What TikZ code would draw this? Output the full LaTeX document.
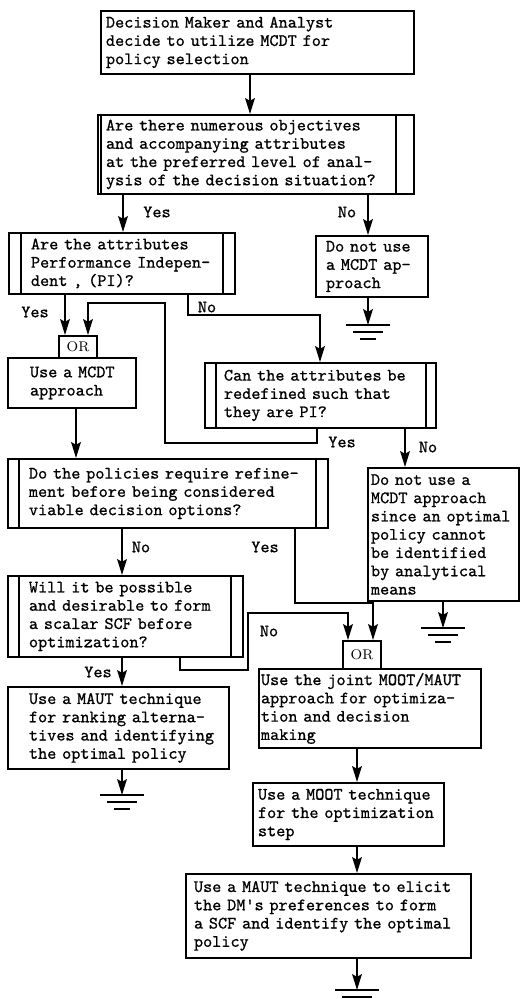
\documentclass[tikz,border=0pt]{standalone}
\usepackage{fontspec}
\usetikzlibrary{arrows.meta}

\newfontfamily\twfont{Latin Modern Mono}[FakeBold=0.8]
\newcommand{\boxfont}{\twfont\fontsize{9.9pt}{10.4pt}\selectfont}

\tikzset{
  box/.style 2 args={draw, line width=1.1pt, anchor=north west, inner sep=0pt,
    align=left, text width=#1, minimum height=#2, font=\boxfont},
  pad/.style={execute at begin node={\leftskip=#1\relax}},
  bars/.style 2 args={path picture={
      \draw[line width=0.8pt] ([xshift=#1]path picture bounding box.north west)
        -- ([xshift=#1]path picture bounding box.south west);
      \draw[line width=0.8pt] ([xshift=-#2]path picture bounding box.north east)
        -- ([xshift=-#2]path picture bounding box.south east);}},
  orbox/.style={draw, line width=1.1pt, anchor=north west, inner sep=0pt,
    minimum width=0.76cm, minimum height=#1, font=\fontsize{8pt}{9pt}\selectfont},
  lbl/.style={font=\boxfont, inner sep=0pt},
  flow/.style={line width=1.1pt, -{Stealth[length=9pt, width=5.5pt, inset=1.5pt]}},
  ground/.pic={
    \draw[line width=1.6pt] (-22,0) -- (22,0);
    \draw[line width=1.6pt] (-15,7) -- (15,7);
    \draw[line width=1.6pt] (-8,14) -- (8,14);
  },
}

\begin{document}
\begin{tikzpicture}[x=0.02cm, y=-0.02cm]
    \useasboundingbox (0,0) rectangle (520,999);

    % boxes
    \node[box={6.26cm}{1.26cm}, pad=0.1cm] (start) at (100,10)
        {Decision Maker and Analyst\\decide to utilize MCDT for\\policy selection};
    \node[box={6.32cm}{1.58cm}, pad=0.16cm, bars={0.06cm}{0.36cm}] (qObj) at (97,114)
        {Are there numerous objectives\\and accompanying attributes\\at the preferred level of anal-\\ysis of the decision situation?};
    \node[box={4.52cm}{1.22cm}, pad=0.44cm, bars={0.24cm}{0.24cm}] (qPI) at (8,232)
        {Are the attributes\\Performance Indepen-\\dent , (PI)?};
    \node[box={2.24cm}{1.22cm}, pad=0.2cm] (noMcdtA) at (315,235)
        {Do not use\\a MCDT ap-\\proach};
    \node[box={2.56cm}{1.0cm}, pad=0.44cm] (useMcdt) at (7,357)
        {Use a MCDT\\approach};
    \node[orbox=0.44cm] (orA) at (58,335) {OR};
    \node[box={4.62cm}{1.3cm}, pad=0.38cm, bars={0.22cm}{0.2cm}] (qRedef) at (204,362)
        {Can the attributes be\\redefined such that\\they are PI?};
    \node[box={6.4cm}{1.38cm}, pad=0.42cm, bars={0.22cm}{0.24cm}] (qRefine) at (7,458)
        {Do the policies require refine-\\ment before being considered\\viable decision options?};
    \node[box={3.02cm}{2.66cm}, pad=0.06cm] (noMcdtB) at (367,467)
        {Do not use a\\MCDT approach\\since an optimal\\policy cannot\\be identified\\by analytical\\means};
    \node[box={4.7cm}{1.62cm}, pad=0.42cm, bars={0.22cm}{0.24cm}] (qScf) at (7,575)
        {Will it be possible\\and desirable to form\\a scalar SCF before\\optimization?};
    \node[orbox=0.56cm] (orB) at (342,640) {OR};
    \node[box={4.42cm}{1.64cm}, pad=0.42cm] (useMaut) at (7,686)
        {Use a MAUT technique\\for ranking alterna-\\tives and identifying\\the optimal policy};
    \node[box={4.44cm}{1.58cm}, pad=0.04cm] (useJoint) at (258,668)
        {Use the joint MOOT/MAUT\\approach for optimiza-\\tion and decision\\making};
    \node[box={3.82cm}{1.26cm}, pad=0.1cm] (useMoot) at (252,782)
        {Use a MOOT technique\\for the optimization\\step};
    \node[box={5.7cm}{1.68cm}, pad=0.16cm] (useElicit) at (185,873)
        {Use a MAUT technique to elicit\\the DM's preferences to form\\a SCF and identify the optimal\\policy};

    % grounds
    \coordinate (gndA) at (368,325);
    \coordinate (gndB) at (443,628);
    \coordinate (gndC) at (122,795);
    \coordinate (gndD) at (357,990);
    \pic at (gndA) {ground};
    \pic at (gndB) {ground};
    \pic at (gndC) {ground};
    \pic at (gndD) {ground};

    % connectors
    \draw[flow] (start.south -| 250,0) -- (qObj.north -| 250,0);
    \draw[flow] (qObj.south -| 123,0) -- (qPI.north -| 123,0);
    \draw[flow] (qObj.south -| 368,0) -- (noMcdtA.north -| 368,0);
    \draw[flow] (noMcdtA.south -| gndA) -- (gndA);
    \draw[flow] (qPI.south -| 65,0) -- (orA.north -| 65,0);
    \draw[flow] (qPI.south -| 188,0) |- (320,315) -- (qRedef.north -| 320,0);
    \draw[flow] (qRedef.south -| 317,0) |- (165,443) |- (88,303) -- (orA.north -| 88,0);
    \draw[flow] (useMcdt.south -| 76,0) -- (qRefine.north -| 76,0);
    \draw[flow] (qRedef.south -| 405,0) -- (noMcdtB.north -| 405,0);
    \draw[flow] (noMcdtB.south -| gndB) -- (gndB);
    \draw[flow] (qRefine.south -| 122,0) -- (qScf.north -| 122,0);
    \draw[flow] (qRefine.south -| 295,0) |- (373,603) -- (orB.north -| 373,0);
    \draw[flow] (qScf.south -| 180,0) |- (248,670) |- (348,613) -- (orB.north -| 348,0);
    \draw[flow] (qScf.south -| 122,0) -- (useMaut.north -| 122,0);
    \draw[flow] (useMaut.south -| gndC) -- (gndC);
    \draw[flow] (useJoint.south -| 357,0) -- (useMoot.north -| 357,0);
    \draw[flow] (useMoot.south -| 357,0) -- (useElicit.north -| 357,0);
    \draw[flow] (useElicit.south -| gndD) -- (gndD);

    % labels
    \node[lbl] (yesA) at (157,212) {Yes};
    \node[lbl] (noA) at (347,212) {No};
    \node[lbl] (yesB) at (35,312) {Yes};
    \node[lbl] (noB) at (207,307) {No};
    \node[lbl] (yesC) at (342,442) {Yes};
    \node[lbl] (noC) at (428,447) {No};
    \node[lbl] (noD) at (141,547) {No};
    \node[lbl] (yesD) at (265,547) {Yes};
    \node[lbl] (noE) at (269,631) {No};
    \node[lbl] (yesE) at (98,672) {Yes};
\end{tikzpicture}
\end{document}
